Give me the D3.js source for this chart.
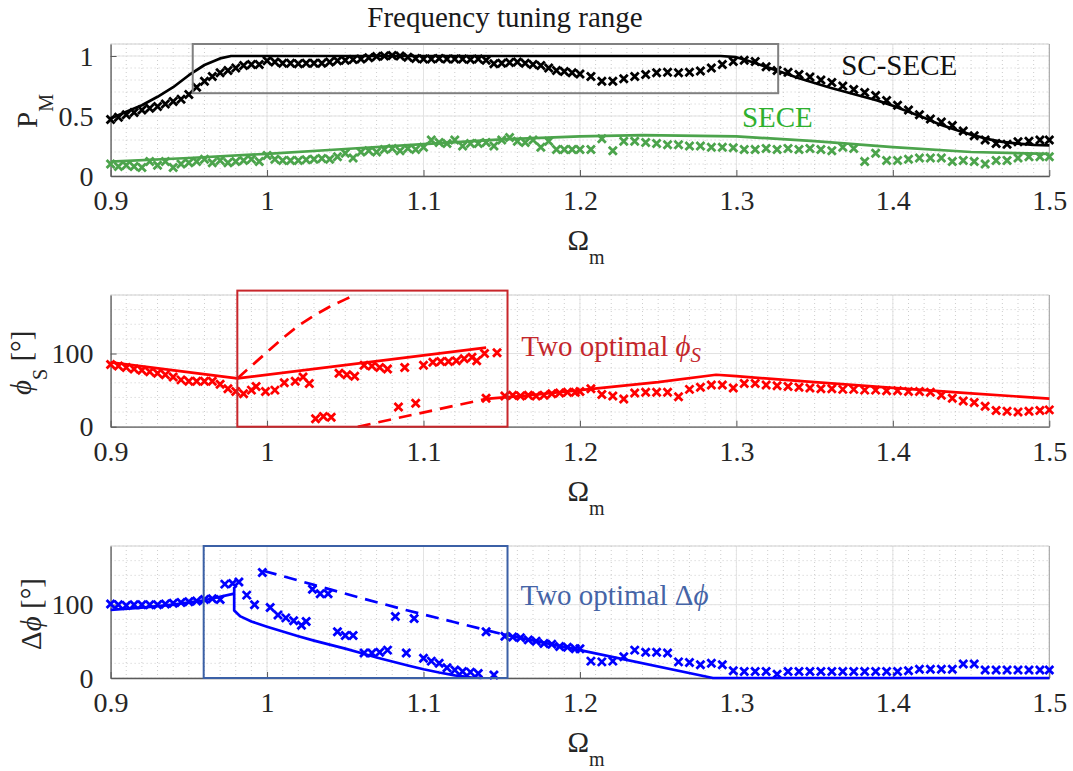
<!DOCTYPE html>
<html><head><meta charset="utf-8">
<script src="https://cdn.jsdelivr.net/npm/d3@7"></script>
<style>
body{margin:0;background:#fff}
svg{display:block}
text{font-family:"Liberation Serif","Times New Roman","DejaVu Serif",serif;fill:#262626}
</style>
</head><body>
<svg id="c" width="1073" height="771" font-family="Liberation Serif, serif"></svg>
<script>
// ---------- axis ticks ----------
const omegaTicks = [0.9, 1.0, 1.1, 1.2, 1.3, 1.4, 1.5];
const omegaTickLabels = ["0.9", "1", "1.1", "1.2", "1.3", "1.4", "1.5"];
const pmTicks = [0, 0.5, 1];
const pmTickLabels = ["0", "0.5", "1"];
const angTicks = [0, 100];
const angTickLabels = ["0", "100"];

// ---------- measurement grid (Ω_m) for P_M ----------
const omegaMeas = [0.900,0.905,0.910,0.915,0.920,0.925,0.930,0.935,0.940,0.945,
  0.950,0.955,0.960,0.965,0.970,0.975,0.980,0.985,0.990,0.995,
  1.000,1.005,1.010,1.015,1.020,1.025,1.030,1.035,1.040,1.045,
  1.050,1.055,1.060,1.065,1.070,1.075,1.080,1.085,1.090,1.095,
  1.100,1.105,1.110,1.115,1.120,1.125,1.130,1.135,1.140,1.145,
  1.150,1.155,1.160,1.165,1.170,1.175,1.180,1.185,1.190,1.195,
  1.200,1.207,1.214,1.221,1.228,1.235,1.242,1.249,1.256,1.263,
  1.270,1.277,1.284,1.291,1.298,1.305,1.312,1.319,1.326,1.333,
  1.340,1.347,1.354,1.361,1.368,1.375,1.382,1.389,1.396,1.403,
  1.410,1.417,1.424,1.431,1.438,1.445,1.452,1.459,1.466,1.473,
  1.480,1.487,1.494,1.500];

// SC-SECE measured P_M (black x)
const scMeas = [0.47,0.49,0.51,0.53,0.55,0.565,0.58,0.60,0.62,0.64,
  0.68,0.74,0.79,0.83,0.86,0.88,0.90,0.92,0.93,0.93,
  0.96,0.95,0.94,0.94,0.935,0.94,0.94,0.94,0.95,0.96,
  0.965,0.97,0.975,0.985,0.995,1.0,1.005,1.0,0.99,0.98,
  0.975,0.975,0.98,0.975,0.975,0.975,0.97,0.975,0.965,0.935,
  0.94,0.945,0.95,0.94,0.93,0.92,0.90,0.88,0.87,0.86,
  0.85,0.83,0.79,0.79,0.81,0.83,0.845,0.86,0.865,0.86,
  0.865,0.875,0.90,0.93,0.955,0.965,0.955,0.91,0.88,0.865,
  0.845,0.825,0.80,0.78,0.75,0.72,0.695,0.67,0.63,0.59,
  0.55,0.51,0.475,0.45,0.42,0.375,0.335,0.30,0.27,0.265,
  0.285,0.29,0.30,0.30];

// SECE measured P_M (green x)
const seceMeas = [0.10,0.08,0.09,0.08,0.07,0.12,0.09,0.12,0.07,0.10,
  0.11,0.12,0.14,0.11,0.13,0.11,0.12,0.13,0.14,0.12,
  0.17,0.14,0.13,0.13,0.13,0.135,0.14,0.145,0.14,0.16,
  0.19,0.15,0.20,0.21,0.20,0.22,0.23,0.21,0.23,0.22,
  0.24,0.30,0.28,0.27,0.30,0.25,0.27,0.27,0.28,0.25,
  0.30,0.32,0.29,0.28,0.30,0.24,0.29,0.22,0.22,0.22,
  0.22,0.22,0.31,0.21,0.29,0.29,0.28,0.27,0.26,0.26,
  0.25,0.25,0.24,0.24,0.235,0.22,0.22,0.23,0.22,0.23,
  0.22,0.23,0.22,0.21,0.24,0.23,0.12,0.19,0.13,0.13,
  0.14,0.15,0.15,0.15,0.12,0.13,0.12,0.10,0.13,0.13,
  0.15,0.16,0.16,0.16];

// SC-SECE theory (black line)
const scTheoryX = [0.90,0.91,0.92,0.93,0.94,0.95,0.96,0.97,0.977,1.29,1.30,1.31,1.32,1.33,1.34,1.35,1.36,1.37,1.38,1.39,1.40,1.41,1.42,1.43,1.44,1.45,1.46,1.47,1.48,1.49,1.50];
const scTheoryY = [0.48,0.535,0.59,0.66,0.74,0.84,0.925,0.98,1.0,1.0,0.99,0.95,0.905,0.86,0.815,0.775,0.735,0.70,0.665,0.63,0.585,0.535,0.485,0.43,0.385,0.345,0.31,0.285,0.27,0.26,0.255];

// SECE theory (green line)
const seceTheoryX = [0.90,0.95,1.00,1.05,1.10,1.15,1.20,1.24,1.30,1.35,1.40,1.45,1.50];
const seceTheoryY = [0.12,0.15,0.185,0.225,0.265,0.305,0.33,0.34,0.33,0.29,0.24,0.20,0.185];

// φS measured (red x)
const phiSMeasX = [0.900,0.905,0.910,0.915,0.920,0.925,0.930,0.935,0.940,0.945,0.950,0.955,0.960,0.965,0.970,0.975,0.980,
  0.985,0.990,0.993,0.999,1.005,1.011,1.018,1.023,1.027,1.031,1.036,1.041,1.046,1.051,1.056,
  1.062,1.067,1.072,1.077,1.084,1.088,1.095,1.100,1.106,1.111,1.116,1.121,1.126,1.131,1.134,1.139,1.147,
  1.140,1.152,1.157,1.162,1.167,1.172,1.177,1.182,1.187,1.192,1.197,1.200,
  1.207,1.214,1.221,1.228,1.235,1.242,1.249,1.256,1.263,1.270,1.277,1.284,1.291,1.298,1.305,1.312,1.319,1.326,1.333,
  1.340,1.347,1.354,1.361,1.368,1.375,1.382,1.389,1.396,1.403,1.410,1.417,1.424,1.431,1.438,1.445,1.452,1.459,1.466,
  1.473,1.480,1.487,1.494,1.500];
const phiSMeasY = [85,83,81,79,77,75,73,71,68,64,62,62,62,62,58,52,48,
  45,50,55,48,50,60,62,68,59,11,14,13,73,71,69,
  84,83,81,79,27,81,32,84,88,89,89,90,93,95,90,100,101,
  39,42,43,42,43,42,43,45,46,47,47,48,
  52,44,42,38,46,47,47,47,41,51,54,57,57,53,59,59,57,56,55,
  54,53,52,52,51,51,50,50,49,49,48,48,47,43,39,35,33,28,22,
  21,20,21,22,23];

// φS theory (red lines)
const phiSSolid1X = [0.90,0.981,1.14];
const phiSSolid1Y = [88,66,108];
const phiSDashUpX = [0.981,0.99,1.00,1.01,1.02,1.03,1.04,1.05,1.057];
const phiSDashUpY = [66,83,102,121,138,152,164,174,181];
const phiSDashLowX = [1.058,1.14];
const phiSDashLowY = [0,38];
const phiSSolid2X = [1.14,1.168,1.20,1.25,1.287,1.30,1.35,1.40,1.45,1.50];
const phiSSolid2Y = [38,43,50,61,71,69,61,53,45.5,38.5];

// Δφ measured (blue x)
const dPhiMeasX = [0.900,0.905,0.910,0.915,0.920,0.925,0.930,0.935,0.940,0.945,0.950,0.955,0.960,0.965,0.970,
  0.973,0.978,0.982,0.987,0.992,0.997,1.002,1.007,1.012,1.017,1.022,1.025,1.029,1.034,1.039,
  1.045,1.050,1.055,1.062,1.067,1.072,1.077,1.082,1.089,1.094,1.100,1.105,1.110,1.115,1.120,1.125,1.130,1.135,1.145,
  1.140,1.152,1.157,1.162,1.167,1.172,1.177,1.182,1.187,1.192,1.197,1.200,
  1.207,1.214,1.221,1.228,1.235,1.242,1.249,1.256,1.263,1.270,1.277,1.284,1.291,1.298,1.305,1.312,1.319,1.326,1.333,
  1.340,1.347,1.354,1.361,1.368,1.375,1.382,1.389,1.396,1.403,1.410,1.417,1.424,1.431,1.438,1.445,1.452,1.459,1.466,
  1.473,1.480,1.487,1.494,1.500];
const dPhiMeasY = [101,100,99,100,100,100,100,101,102,103,104,105,107,108,107,
  128,129,131,113,100,144,96,86,82,78,72,77,121,115,115,
  63,58,58,34,34,35,38,84,34,81,27,23,20,14,11,9,8,6,4,
  63,57,56,55,52,50,47,46,43,42,40,40,
  23,22,23,29,38,35,35,34,22,21,18,20,18,10,9,9,9,5,9,
  9,9,9,9,9,9,9,9,9,9,10,12,12,12,12,19,19,11,11,
  11,11,11,11,11];

// Δφ theory (blue lines)
const dPhiLeftX = [0.90,0.92,0.94,0.96,0.979];
const dPhiLeftY = [93,96,100,106,115];
const dPhiLowX = [0.979,0.979,0.983,0.99,1.00,1.01,1.02,1.03,1.04,1.05,1.06,1.07,1.08,1.09,1.10,1.11,1.12,1.13,1.137];
const dPhiLowY = [124,92,84,77,70,63.5,57,51,45.5,40,34,28,22.5,17,12,7.5,3.5,1,0];
const dPhiDashX = [0.998,1.03,1.06,1.09,1.12,1.15];
const dPhiDashY = [146,127,109,92,76,60];
const dPhiRightX = [1.15,1.20,1.285,1.50];
const dPhiRightY = [60,38,0,0];

// ---------- drawing ----------
const SERIF = '"Liberation Serif","Times New Roman",serif';
const svg = d3.select("#c");
const x = d3.scaleLinear().domain([0.9, 1.5]).range([110.6, 1049.3]);
const X0 = x.range()[0], X1 = x.range()[1];

const C = {
  black: "#000000", green: "#4ca44c", greenText: "#2eb02e",
  red: "#ff0000", redBox: "#c8262b", redText: "#c4272c",
  blue: "#0000ff", blueBox: "#3b60a6", blueText: "#4564a6",
  gray: "#808080"
};

function makePanel(top, bottom, ymax, ticks, labels, minorStep, id) {
  const y = d3.scaleLinear().domain([0, ymax]).range([bottom, top]);
  const g = svg.append("g");
  const xm = d3.range(0.9, 1.5001, 0.01);
  g.append("g").selectAll("line").data(xm).join("line")
    .attr("x1", d => x(d)).attr("x2", d => x(d)).attr("y1", top).attr("y2", bottom)
    .attr("stroke", "#cdcdcd").attr("stroke-width", 1).attr("stroke-dasharray", "1,3");
  const ym = d3.range(0, ymax + 1e-9, minorStep);
  g.append("g").selectAll("line").data(ym).join("line")
    .attr("y1", d => y(d)).attr("y2", d => y(d)).attr("x1", X0).attr("x2", X1)
    .attr("stroke", "#cdcdcd").attr("stroke-width", 1).attr("stroke-dasharray", "1,3");
  g.append("g").selectAll("line").data(omegaTicks).join("line")
    .attr("x1", d => x(d)).attr("x2", d => x(d)).attr("y1", top).attr("y2", bottom)
    .attr("stroke", "#e3e3e3").attr("stroke-width", 1);
  g.append("g").selectAll("line").data(ticks).join("line")
    .attr("y1", d => y(d)).attr("y2", d => y(d)).attr("x1", X0).attr("x2", X1)
    .attr("stroke", "#e3e3e3").attr("stroke-width", 1);
  g.append("line").attr("x1", X0).attr("x2", X1).attr("y1", top).attr("y2", top).attr("stroke", "#d0d0d0");
  g.append("line").attr("x1", X1).attr("x2", X1).attr("y1", top).attr("y2", bottom).attr("stroke", "#a0a0a0");
  const xa = d3.axisBottom(x).tickValues(omegaTicks).tickFormat((d, i) => omegaTickLabels[i]).tickSizeInner(-6).tickSizeOuter(0).tickPadding(14);
  const xg = g.append("g").attr("transform", `translate(0,${bottom})`).call(xa);
  const ya = d3.axisLeft(y).tickValues(ticks).tickFormat((d, i) => labels[i]).tickSizeInner(-6).tickSizeOuter(0).tickPadding(17);
  const yg = g.append("g").attr("transform", `translate(${X0},0)`).call(ya);
  [xg, yg].forEach(a => {
    a.attr("font-family", SERIF);
    a.select(".domain").attr("stroke", "#5a5a5a").attr("stroke-width", 1.3);
    a.selectAll(".tick line").attr("stroke", "#5a5a5a");
    a.selectAll(".tick text").attr("fill", "#262626").style("font-family", SERIF).style("font-size", "28px");
  });
  xg.selectAll(".tick text").attr("dy", "0.71em");
  yg.selectAll(".tick text").attr("dy", "0.33em");
  const t = g.append("text").attr("x", (X0 + X1) / 2 + 6).attr("y", bottom + 74).attr("text-anchor", "middle").style("font-size", "29px");
  t.append("tspan").text("Ω");
  t.append("tspan").attr("dy", 14).style("font-size", "20px").text("m");
  svg.append("clipPath").attr("id", id).append("rect").attr("x", X0).attr("y", top).attr("width", X1 - X0).attr("height", bottom - top);
  return {y, g, top, bottom};
}

function lineOf(p, xs, ys, color, dash, clip) {
  const data = d3.zip(xs, ys);
  const path = p.g.append("path").datum(data)
    .attr("d", d3.line().x(d => x(d[0])).y(d => p.y(d[1])))
    .attr("fill", "none").attr("stroke", color).attr("stroke-width", 2.7)
    .attr("stroke-linejoin", "round");
  if (dash) path.attr("stroke-dasharray", "13,8");
  if (clip) path.attr("clip-path", `url(#${clip})`);
  return path;
}
function marks(p, xs, ys, color) {
  p.g.append("g").selectAll("path").data(d3.zip(xs, ys)).join("path")
    .attr("transform", d => `translate(${x(d[0])},${p.y(d[1])})`)
    .attr("d", "M-4,-4L4,4M-4,4L4,-4")
    .attr("stroke", color).attr("stroke-width", 2.8).attr("fill", "none");
}
function rectOf(p, x0, x1, y0, y1, color) {
  p.g.append("rect").attr("x", x(x0)).attr("y", p.y(y1))
    .attr("width", x(x1) - x(x0)).attr("height", p.y(y0) - p.y(y1))
    .attr("fill", "none").attr("stroke", color).attr("stroke-width", 2);
}

// Panel 1: P_M
const p1 = makePanel(44, 176, 1.1, pmTicks, pmTickLabels, 0.1, "cp1");
lineOf(p1, seceTheoryX, seceTheoryY, C.green);
marks(p1, omegaMeas, seceMeas, C.green);
lineOf(p1, scTheoryX, scTheoryY, C.black);
marks(p1, omegaMeas, scMeas, C.black);
rectOf(p1, 0.9525, 1.3267, 0.69, 1.1, C.gray);
svg.append("text").attr("x", 505).attr("y", 27).attr("text-anchor", "middle").style("font-size", "29px").style("fill", "#1a1a1a").text("Frequency tuning range");
p1.g.append("text").attr("x", x(1.367)).attr("y", p1.y(0.84)).style("font-size", "29px").style("fill", "#111").text("SC-SECE");
p1.g.append("text").attr("x", x(1.3035)).attr("y", p1.y(0.41)).style("font-size", "29px").style("fill", C.greenText).text("SECE");
{
  const t = svg.append("text").attr("transform", `translate(37,${(44 + 176) / 2 + 1}) rotate(-90)`).attr("text-anchor", "middle").style("font-size", "29px");
  t.append("tspan").text("P");
  t.append("tspan").attr("dy", 16).style("font-size", "20px").text("M");
}

// Panel 2: φS
const p2 = makePanel(295, 426.7, 180, angTicks, angTickLabels, 20, "cp2");
lineOf(p2, phiSSolid1X, phiSSolid1Y, C.red);
lineOf(p2, phiSDashUpX, phiSDashUpY, C.red, true, "cp2");
lineOf(p2, phiSDashLowX, phiSDashLowY, C.red, true);
lineOf(p2, phiSSolid2X, phiSSolid2Y, C.red);
marks(p2, phiSMeasX, phiSMeasY, C.red);
rectOf(p2, 0.981, 1.1537, 0, 186, C.redBox);
{
  const t = p2.g.append("text").attr("x", x(1.1625)).attr("y", p2.y(96.6)).style("font-size", "29px").style("fill", C.redText);
  t.append("tspan").text("Two optimal ");
  t.append("tspan").style("font-style", "italic").text("ϕ");
  t.append("tspan").attr("dy", 6).style("font-style", "italic").style("font-size", "21px").text("S");
}
{
  const t = svg.append("text").attr("transform", `translate(31,${(295 + 426.7) / 2 + 2}) rotate(-90)`).attr("text-anchor", "middle").style("font-size", "29px");
  t.append("tspan").style("font-style", "italic").text("ϕ");
  t.append("tspan").attr("dy", 16).style("font-size", "20px").text("S");
  t.append("tspan").attr("dy", -16).text(" [°]");
}

// Panel 3: Δφ
const p3 = makePanel(546, 678, 180, angTicks, angTickLabels, 20, "cp3");
lineOf(p3, dPhiLeftX, dPhiLeftY, C.blue);
lineOf(p3, dPhiLowX, dPhiLowY, C.blue);
lineOf(p3, dPhiDashX, dPhiDashY, C.blue, true);
lineOf(p3, dPhiRightX, dPhiRightY, C.blue);
marks(p3, dPhiMeasX, dPhiMeasY, C.blue);
rectOf(p3, 0.9595, 1.1537, 0, 180, C.blueBox);
{
  const t = p3.g.append("text").attr("x", x(1.162)).attr("y", p3.y(99.5)).style("font-size", "29px").style("fill", C.blueText);
  t.append("tspan").text("Two optimal Δ");
  t.append("tspan").style("font-style", "italic").text("ϕ");
}
{
  const t = svg.append("text").attr("transform", `translate(41,${(546 + 678) / 2 + 2}) rotate(-90)`).attr("text-anchor", "middle").style("font-size", "29px");
  t.append("tspan").text("Δ");
  t.append("tspan").style("font-style", "italic").text("ϕ");
  t.append("tspan").text(" [°]");
}
</script>
</body></html>
